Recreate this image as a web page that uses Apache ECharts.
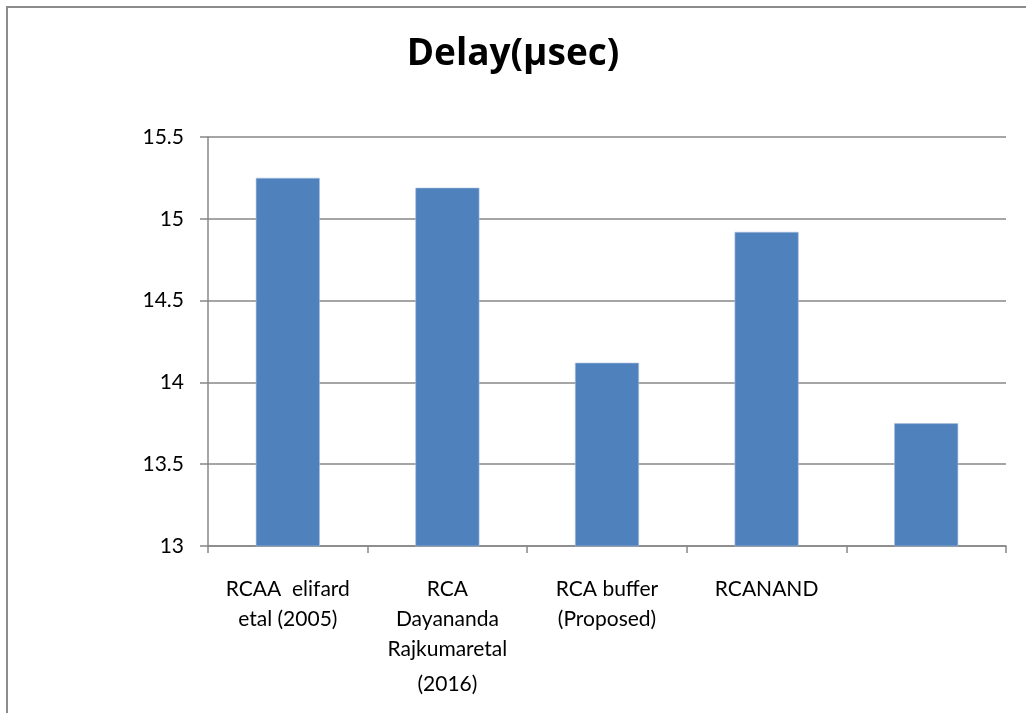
<!DOCTYPE html>
<html>
<head>
<meta charset="utf-8">
<script src="https://cdn.jsdelivr.net/npm/echarts@6/dist/echarts.min.js"></script>
<style>
  html, body { margin: 0; padding: 0; background: #ffffff; }
  #chart { width: 1026px; height: 713px; }
</style>
</head>
<body>
<div id="chart"></div>
<script>
// Delay per adder design, in microseconds
const categories = [
  'RCAA  elifard\netal (2005)',
  'RCA\nDayananda\nRajkumaretal\n{gap|(2016)}',
  'RCA buffer\n(Proposed)',
  'RCANAND',
  ''
];
const delayValues = [15.25, 15.19, 14.12, 14.92, 13.75];
const yMin = 13;
const yMax = 15.5;
const yStep = 0.5;
const titleText = 'Delay(µsec)';

const FONT = 'Lato, "Open Sans", sans-serif';
const GRID_GRAY = '#878787';

const chart = echarts.init(document.getElementById('chart'), null, { renderer: 'canvas' });

chart.setOption({
  backgroundColor: '#ffffff',
  animation: false,
  title: {
    text: titleText,
    left: 'center',
    top: 31,
    textStyle: { fontFamily: '"Open Sans", Lato, sans-serif', fontSize: 37, fontWeight: 'bold', color: '#000000' }
  },
  graphic: [{
    type: 'rect',
    shape: { x: 7, y: 7, width: 1040, height: 730 },
    style: { fill: 'none', stroke: '#8c8c8c', lineWidth: 2 },
    silent: true
  }],
  grid: { left: 208, right: 20, top: 137, bottom: 167, containLabel: false },
  xAxis: {
    type: 'category',
    data: categories,
    axisLine: { lineStyle: { color: GRID_GRAY, width: 1.5 } },
    axisTick: { show: true, length: 7, alignWithLabel: false, lineStyle: { color: GRID_GRAY, width: 1.5 } },
    axisLabel: {
      interval: 0,
      margin: 28,
      fontFamily: FONT,
      fontSize: 21,
      color: '#000000',
      lineHeight: 30,
      align: 'center',
      rich: {
        gap: { fontFamily: FONT, fontSize: 21, color: '#000000', lineHeight: 40 }
      }
    }
  },
  yAxis: {
    type: 'value',
    min: yMin,
    max: yMax,
    interval: yStep,
    axisLine: { show: true, lineStyle: { color: GRID_GRAY, width: 1.5 } },
    axisTick: { show: true, inside: false, length: 8, lineStyle: { color: GRID_GRAY, width: 1.5 } },
    splitLine: { show: true, lineStyle: { color: GRID_GRAY, width: 1.5 } },
    axisLabel: {
      margin: 24,
      fontFamily: FONT,
      fontSize: 21,
      color: '#000000',
      formatter: v => String(v)
    }
  },
  series: [{
    type: 'bar',
    data: delayValues,
    barWidth: 64,
    itemStyle: { color: '#4f81bd', borderColor: '#a9c0de', borderWidth: 0.6 }
  }]
});
</script>
</body>
</html>
